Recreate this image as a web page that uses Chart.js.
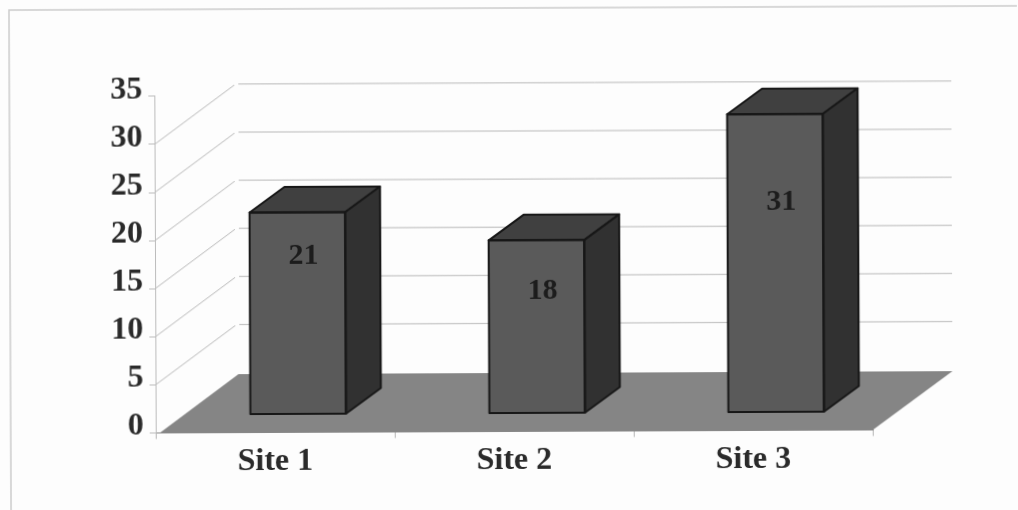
<!DOCTYPE html>
<html>
<head>
<meta charset="utf-8">
<title>Site totals</title>
<script src="https://cdn.jsdelivr.net/npm/chart.js@4/dist/chart.umd.min.js"></script>
<style>
  html, body { margin: 0; padding: 0; background: #fdfdfd; overflow: hidden; }
  #chart { display: block; transform: rotate(-0.24deg); }
</style>
</head>
<body>
<canvas id="chart" width="1018" height="510"></canvas>
<script>
const categories = ['Site 1', 'Site 2', 'Site 3'];
const siteValues = [21, 18, 31];
const yTicks = [0, 5, 10, 15, 20, 25, 30, 35];

// Perspective offsets of the 3D look
const barShift = { x: 23, y: -18 };
const barDepth = { x: 35, y: -25.5 };
const wallDepth = { x: 82, y: -60 };
const floorDepth = { x: 80, y: -58.5 };
// How far each value label sits below its bar top
const labelDrop = [44, 51, 88];

const serif = '"Liberation Serif", "Times New Roman", serif';

// Chart border: only the top and left edges show
const frame = {
  id: 'frame',
  beforeDraw(chart) {
    const { ctx, width, height } = chart;
    ctx.save();
    ctx.strokeStyle = '#cccccc';
    ctx.lineWidth = 1.5;
    ctx.beginPath();
    ctx.moveTo(10, height);
    ctx.lineTo(10, 8);
    ctx.lineTo(width, 8);
    ctx.stroke();
    ctx.restore();
  }
};

// Side walls, grid and floor behind the bars
const backdrop = {
  id: 'backdrop',
  beforeDatasetsDraw(chart) {
    const { ctx, chartArea: area, scales: { y } } = chart;
    ctx.save();
    ctx.strokeStyle = '#b9b9b9';
    ctx.lineWidth = 1;
    yTicks.filter(v => v > 0 && v < 35).forEach(v => {
      const py = y.getPixelForValue(v);
      const backY = py + wallDepth.y;
      ctx.beginPath();
      ctx.moveTo(area.left, py);
      ctx.lineTo(area.left + wallDepth.x - 2, backY + 1);
      ctx.moveTo(area.left + wallDepth.x + 2, backY);
      ctx.lineTo(area.right + wallDepth.x - 2, backY);
      ctx.stroke();
    });
    const y0 = y.getPixelForValue(0);
    ctx.fillStyle = '#858585';
    ctx.beginPath();
    ctx.moveTo(area.left + 4, y0);
    ctx.lineTo(area.right, y0);
    ctx.lineTo(area.right + floorDepth.x, y0 + floorDepth.y);
    ctx.lineTo(area.left + floorDepth.x + 3, y0 + floorDepth.y);
    ctx.closePath();
    ctx.fill();
    ctx.restore();
    // the bars stand further back than the axis plane
    ctx.save();
    ctx.translate(barShift.x, barShift.y);
  },
  afterDatasetsDraw(chart) {
    const { ctx } = chart;
    const meta = chart.getDatasetMeta(0);
    const outline = '#171717';
    meta.data.forEach((bar, i) => {
      const { x, y, base, width } = bar.getProps(['x', 'y', 'base', 'width'], true);
      const l = x - width / 2;
      const r = x + width / 2;
      ctx.lineWidth = 2;
      ctx.lineJoin = 'round';
      ctx.strokeStyle = outline;
      // top face
      ctx.fillStyle = '#404040';
      ctx.beginPath();
      ctx.moveTo(l, y);
      ctx.lineTo(l + barDepth.x, y + barDepth.y);
      ctx.lineTo(r + barDepth.x, y + barDepth.y);
      ctx.lineTo(r, y);
      ctx.closePath();
      ctx.fill();
      ctx.stroke();
      // side face
      ctx.fillStyle = '#313131';
      ctx.beginPath();
      ctx.moveTo(r, y);
      ctx.lineTo(r + barDepth.x, y + barDepth.y);
      ctx.lineTo(r + barDepth.x, base + barDepth.y);
      ctx.lineTo(r, base);
      ctx.closePath();
      ctx.fill();
      ctx.stroke();
      // front edge again so it stays on top of the faces
      ctx.strokeRect(l, y, width, base - y);
      // value label
      ctx.fillStyle = '#1c1c1c';
      ctx.font = 'bold 30px ' + serif;
      ctx.textAlign = 'center';
      ctx.textBaseline = 'middle';
      ctx.fillText(String(siteValues[i]), x + 6, y + labelDrop[i]);
    });
    ctx.restore();
  }
};

new Chart(document.getElementById('chart').getContext('2d'), {
  type: 'bar',
  data: {
    labels: categories,
    datasets: [{
      data: siteValues,
      backgroundColor: '#5a5a5a',
      barPercentage: 0.4,
      categoryPercentage: 1,
    }]
  },
  options: {
    responsive: false,
    animation: false,
    layout: { padding: { left: 105, right: 146, top: 94.8, bottom: 28.5 } },
    plugins: { legend: { display: false }, title: { display: false }, tooltip: { enabled: false } },
    scales: {
      x: {
        afterFit(scale) { scale.height = 50; },
        border: { color: '#8a8a8a' },
        grid: { color: '#b5b5b5', drawOnChartArea: false, tickLength: 6, offset: true },
        ticks: { color: '#2a2a2a', font: { family: serif, size: 32, weight: 'bold' }, padding: 4, maxRotation: 0 },
      },
      y: {
        min: 0,
        max: 35,
        afterFit(scale) { scale.width = 50; },
        afterBuildTicks(scale) { scale.ticks = yTicks.map(v => ({ value: v })); },
        border: { color: '#bcbcbc' },
        grid: { color: '#bcbcbc', drawOnChartArea: false, tickLength: 6 },
        ticks: { color: '#2a2a2a', font: { family: serif, size: 32, weight: 'bold' }, padding: 6, labelOffset: -6.5 },
      }
    }
  },
  plugins: [frame, backdrop]
});
</script>
</body>
</html>
